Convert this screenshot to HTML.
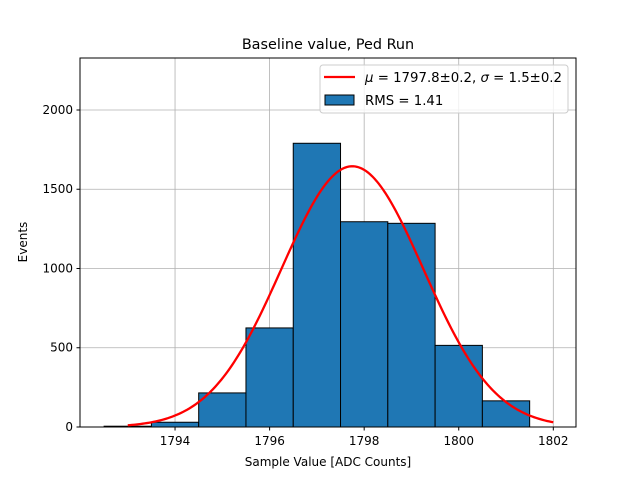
<!DOCTYPE html>
<html><head><meta charset="utf-8"><style>
body{margin:0;background:#fff}
svg{font-family:"DejaVu Sans","Liberation Sans",sans-serif}
</style></head><body>
<svg width="640" height="480" viewBox="0 0 640 480">
<rect width="640" height="480" fill="#fff"/>
<g id="grid"></g>
<g id="bars"></g>
<path id="fit" fill="none" stroke="#ff0000" stroke-width="2.3"/>
<rect x="80" y="58" width="496" height="369" fill="none" stroke="#000" stroke-width="1"/>
<g id="ticks" font-size="12"></g>
<text x="328" y="49" font-size="14.4" text-anchor="middle">Baseline value, Ped Run</text>
<text x="328" y="466" font-size="12" text-anchor="middle">Sample Value [ADC Counts]</text>
<text x="27" y="242" font-size="12" text-anchor="middle" transform="rotate(-90 27 242)">Events</text>
<g>
<rect x="320" y="65" width="248" height="48" rx="3" fill="#fff" fill-opacity="0.8" stroke="#ccc"/>
<line x1="324" y1="77" x2="355" y2="77" stroke="#ff0000" stroke-width="2.3"/>
<text x="365" y="82" font-size="13.3" textLength="197" lengthAdjust="spacingAndGlyphs"><tspan font-style="italic">μ</tspan> = 1797.8±0.2, <tspan font-style="italic">σ</tspan> = 1.5±0.2</text>
<rect x="325" y="95" width="29" height="10" fill="#1f77b4" stroke="#000"/>
<text x="365" y="105" font-size="13.3">RMS = 1.41</text>
</g>
</svg>
<script>
const binCenters=[1793,1794,1795,1796,1797,1798,1799,1800,1801];
const counts=[5,30,215,625,1790,1295,1285,515,165];
const xTicks=[1794,1796,1798,1800,1802];
const yTicks=[0,500,1000,1500,2000];
const fitMu=1797.75, fitSigma=1.5, fitAmp=1645, fitMin=1793, fitMax=1802;
const X0=80,X1=576,Y0=427,Y1=58,xmin=1791.99,xmax=1802.48,ymin=0,ymax=2328;
const sx=v=>X0+(v-xmin)/(xmax-xmin)*(X1-X0);
const sy=v=>Y0-(v-ymin)/(ymax-ymin)*(Y0-Y1);
const NS="http://www.w3.org/2000/svg";
function mk(t,a,p){const e=document.createElementNS(NS,t);for(const k in a)e.setAttribute(k,a[k]);p.appendChild(e);return e;}
const grid=document.getElementById('grid'),bars=document.getElementById('bars'),ticks=document.getElementById('ticks');
xTicks.forEach(v=>{const x=sx(v);
 const g=mk('line',{x1:x,x2:x,y1:Y1,y2:Y0,stroke:'#b0b0b0','stroke-width':0.8},grid);
 
 
 const t=mk('line',{x1:x,x2:x,y1:Y0,y2:Y0+3.5,stroke:'#000'},ticks);
 
 
 const l=mk('text',{x:x,y:Y0+18,'text-anchor':'middle'},ticks);l.textContent=v;
 
 });
yTicks.forEach(v=>{const y=sy(v);
 const g=mk('line',{x1:X0,x2:X1,y1:y,y2:y,stroke:'#b0b0b0','stroke-width':0.8},grid);
 
 
 const t=mk('line',{x1:X0-3.5,x2:X0,y1:y,y2:y,stroke:'#000'},ticks);
 
 
 const l=mk('text',{x:X0-7,y:y+4,'text-anchor':'end'},ticks);l.textContent=v;
 
 });
binCenters.forEach((c,i)=>{const xa=sx(c-0.5),xb=sx(c+0.5),y=sy(counts[i]);
 const r=mk('rect',{x:xa,y:y,width:xb-xa,height:Y0-y,fill:'#1f77b4',stroke:'#000','stroke-width':1},bars);
 
 });
let d='';for(let i=0;i<=200;i++){const v=fitMin+(fitMax-fitMin)*i/200;const f=fitAmp*Math.exp(-0.5*((v-fitMu)/fitSigma)**2);d+=(i?'L':'M')+sx(v).toFixed(2)+' '+sy(f).toFixed(2);}
document.getElementById('fit').setAttribute('d',d);
</script>
</body></html>
